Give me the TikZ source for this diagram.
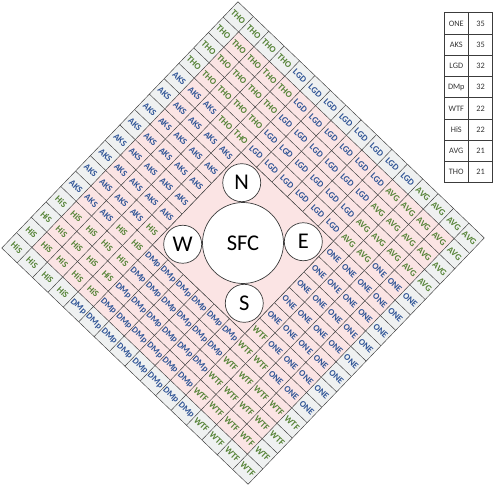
\documentclass[tikz,border=0pt]{standalone}
\usepackage{fontspec}
\setmainfont{Carlito}
\usetikzlibrary{positioning}
\definecolor{cellpink}{RGB}{251,228,228}
\definecolor{edgegrey}{RGB}{239,241,241}
\definecolor{tagGreen}{RGB}{84,130,53}
\definecolor{tagBlue}{RGB}{47,84,150}
\definecolor{rule}{RGB}{60,60,60}

\begin{document}
\begin{tikzpicture}[x=1pt, y=1pt,
    every node/.style={font=\footnotesize},
    tag/.style={font=\bfseries\fontsize{9}{9}\selectfont, rotate=-43.8, inner sep=0pt},
    post/.style={circle, draw=rule, line width=0.7pt, fill=white, inner sep=0pt,
      font=\fontsize{22.5}{22.5}\selectfont},
    tabcell/.style={draw=rule, line width=0.9pt, minimum width=24pt, minimum height=21.25pt,
      inner sep=0pt, outer sep=0pt, text=black!80, font=\fontsize{8.3}{8.3}\selectfont}]
  \useasboundingbox (0,0) rectangle (500,488);

  % rotated 16 x 16 grid of seats
  \begin{scope}[shift={(243,245)}, rotate=-43.8, x=21.33pt, y=21.33pt]
    \fill[edgegrey] (-8,-8) rectangle (8,8);
    \fill[cellpink] (-7,-7) rectangle (7,7);
    \foreach \lbl/\col/\ia/\ib/\ja/\jb in {
        THO/tagGreen/0/3/0/3, THO/tagGreen/1/4/4/4, THO/tagGreen/4/4/3/3,
        AVG/tagGreen/0/3/12/15, AVG/tagGreen/1/4/11/11, AVG/tagGreen/4/4/12/12,
        HiS/tagGreen/12/15/0/3, HiS/tagGreen/10/14/4/4, HiS/tagGreen/11/11/3/3,
        WTF/tagGreen/12/15/12/15, WTF/tagGreen/10/14/11/11, WTF/tagGreen/11/11/12/12,
        AKS/tagBlue/4/11/0/2, AKS/tagBlue/5/10/3/3, AKS/tagBlue/5/9/4/4,
        ONE/tagBlue/4/11/13/15, ONE/tagBlue/5/10/12/12, ONE/tagBlue/5/9/11/11,
        LGD/tagBlue/0/0/4/11, LGD/tagBlue/1/4/5/10,
        DMp/tagBlue/15/15/4/11, DMp/tagBlue/11/14/5/10}
      \foreach \i in {\ia,...,\ib}
        \foreach \j in {\ja,...,\jb}
          \node[tag, text=\col] (c-\i-\j) at (\j-7.5, 7.5-\i) {\lbl};
    \foreach \k in {-8,...,8} {
      \draw[rule, line width=0.45pt] (\k,-8) -- (\k,8);
      \draw[rule, line width=0.45pt] (-8,\k) -- (8,\k);
    }
    % empty middle with the stands
    \filldraw[fill=cellpink, draw=rule, line width=0.45pt] (-3,-3) rectangle (3,3);
    \node[post, minimum size=81pt] (sfc) at (0,0) {SFC};
    \node[post, minimum size=38pt] (n) at (-2,2) {N};
    \node[post, minimum size=38pt] (e) at (2,2) {E};
    \node[post, minimum size=38pt] (s) at (2,-2) {S};
    \node[post, minimum size=38pt] (w) at (-2,-2) {W};
  \end{scope}

  % counts per group
  \foreach \lbl/\val [count=\r] in {ONE/35, AKS/35, LGD/32, DMp/32, WTF/22, HiS/22, AVG/21, THO/21} {
    \node[tabcell] (t-\r-a) at (456.3, 485.9-21.25*\r) {\lbl};
    \node[tabcell, minimum width=24.4pt, right=0pt of t-\r-a] (t-\r-b) {\val};
  }
\end{tikzpicture}
\end{document}
